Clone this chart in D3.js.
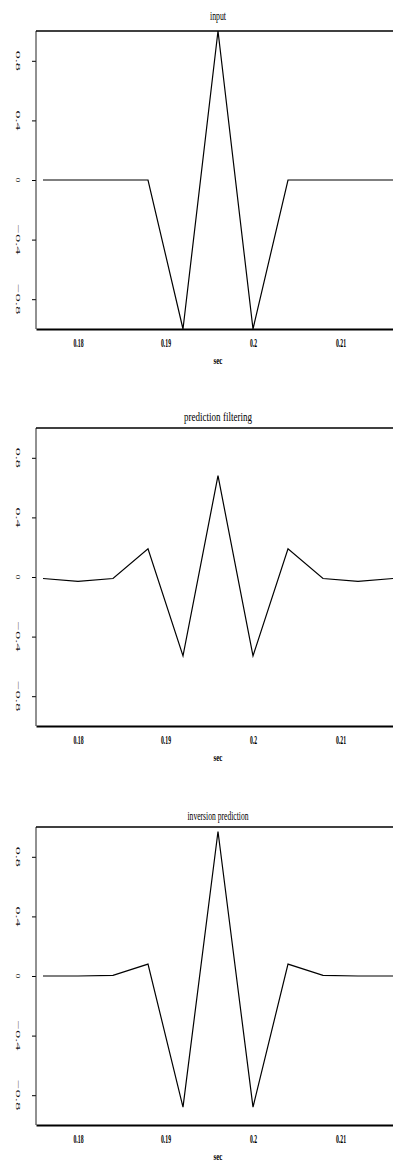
<!DOCTYPE html>
<html>
<head>
<meta charset="utf-8">
<script src="https://cdn.jsdelivr.net/npm/d3@7"></script>
<style>
  body { margin: 0; background: #fff; }
  svg { display: block; }
</style>
</head>
<body>
<div id="chart"></div>
<script>
// sample times (sec), 4 ms interval
const times = [0.176, 0.180, 0.184, 0.188, 0.192, 0.196, 0.200, 0.204, 0.208, 0.212, 0.216];

const inputTrace = [0, 0, 0, 0, -1, 1, -1, 0, 0, 0, 0];
const predictionFiltering = [-0.01, -0.03, -0.01, 0.19, -0.53, 0.68, -0.53, 0.19, -0.01, -0.03, -0.01];
const inversionPrediction = [0, 0, 0.004, 0.08, -0.88, 0.97, -0.88, 0.08, 0.004, 0, 0];

const panelTitles = ['input', 'prediction filtering', 'inversion prediction'];
const xTicks = [0.18, 0.19, 0.2, 0.21];
const xTickLabels = ['0.18', '0.19', '0.2', '0.21'];
const yTicks = [0.8, 0.4, 0, -0.4, -0.8];
const yTickLabels = ['0.8', '0.4', '0', '\u22120.4', '\u22120.8'];
const xLabel = 'sec';

const width = 393;
const height = 1161;
const left = 36;
const right = 400; // plot runs past the window edge
const panelTops = [31, 428, 827];
const panelHeight = 298;
const titleWidths = [16, 68, 61];
const titleOffsets = [11, 7, 7];

const svg = d3.select('#chart')
  .append('svg')
  .attr('width', width)
  .attr('height', height)
  .attr('font-family', 'Liberation Serif, serif');

const x = d3.scaleLinear([0.1752, 0.2168], [left, right]);

const series = [inputTrace, predictionFiltering, inversionPrediction];

series.forEach((values, p) => {
  const top = panelTops[p];
  const bottom = top + panelHeight;
  const y = d3.scaleLinear([-1, 1], [bottom, top]);
  const g = svg.append('g');

  // title
  g.append('text')
    .attr('x', (left + right) / 2)
    .attr('y', top - titleOffsets[p])
    .attr('text-anchor', 'middle')
    .attr('font-size', 11.5)
    .attr('textLength', titleWidths[p])
    .attr('lengthAdjust', 'spacingAndGlyphs')
    .text(panelTitles[p]);

  // y axis with rotated labels
  const yAxis = g.append('g')
    .attr('transform', `translate(${left},0)`)
    .call(d3.axisLeft(y).tickValues(yTicks).tickSize(4).tickFormat(''))
    .call((a) => a.select('.domain').remove());
  yAxis.selectAll('.tick line').attr('stroke', '#000').attr('stroke-width', 1);

  g.append('line')
    .attr('x1', left).attr('x2', left)
    .attr('y1', top).attr('y2', bottom)
    .attr('stroke', '#222').attr('stroke-width', 1);

  g.selectAll('.ylab')
    .data(yTicks)
    .join('text')
    .attr('class', 'ylab')
    .attr('transform', (d) => `translate(17.5,${y(d)}) rotate(90)`)
    .attr('text-anchor', 'middle')
    .attr('dominant-baseline', 'central')
    .attr('font-size', 7)
    .attr('fill', '#111')
    .attr('textLength', (d, i) => (yTickLabels[i].length === 1 ? 5 : (yTickLabels[i].length - 1) * 10))
    .attr('lengthAdjust', 'spacingAndGlyphs')
    .text((d, i) => yTickLabels[i]);

  // top border and bottom axis
  g.append('line')
    .attr('x1', left).attr('x2', right)
    .attr('y1', top).attr('y2', top)
    .attr('stroke', '#000').attr('stroke-width', 1.5);

  const xAxis = g.append('g')
    .attr('transform', `translate(0,${bottom})`)
    .call(d3.axisBottom(x).tickValues(xTicks).tickSize(0).tickPadding(9)
      .tickFormat((d, i) => xTickLabels[i]));
  xAxis.select('.domain').attr('stroke', '#000').attr('stroke-width', 1.8);
  xAxis.selectAll('.tick text')
    .attr('font-family', 'Liberation Serif, serif')
    .attr('font-size', 12)
    .attr('font-weight', 'bold')
    .attr('fill', '#000')
    .attr('textLength', (d, i) => (xTickLabels[i].length === 3 ? 7 : 10))
    .attr('lengthAdjust', 'spacingAndGlyphs');

  g.append('text')
    .attr('x', (left + right) / 2)
    .attr('y', bottom + 35)
    .attr('text-anchor', 'middle')
    .attr('font-size', 11)
    .attr('font-weight', 'bold')
    .attr('textLength', 9)
    .attr('lengthAdjust', 'spacingAndGlyphs')
    .text(xLabel);

  // trace
  const line = d3.line()
    .x((d, i) => x(times[i]))
    .y((d) => y(d));

  g.append('path')
    .datum(values)
    .attr('fill', 'none')
    .attr('stroke', '#000')
    .attr('stroke-width', 1.2)
    .attr('stroke-linejoin', 'miter')
    .attr('d', line);
});
</script>
</body>
</html>
